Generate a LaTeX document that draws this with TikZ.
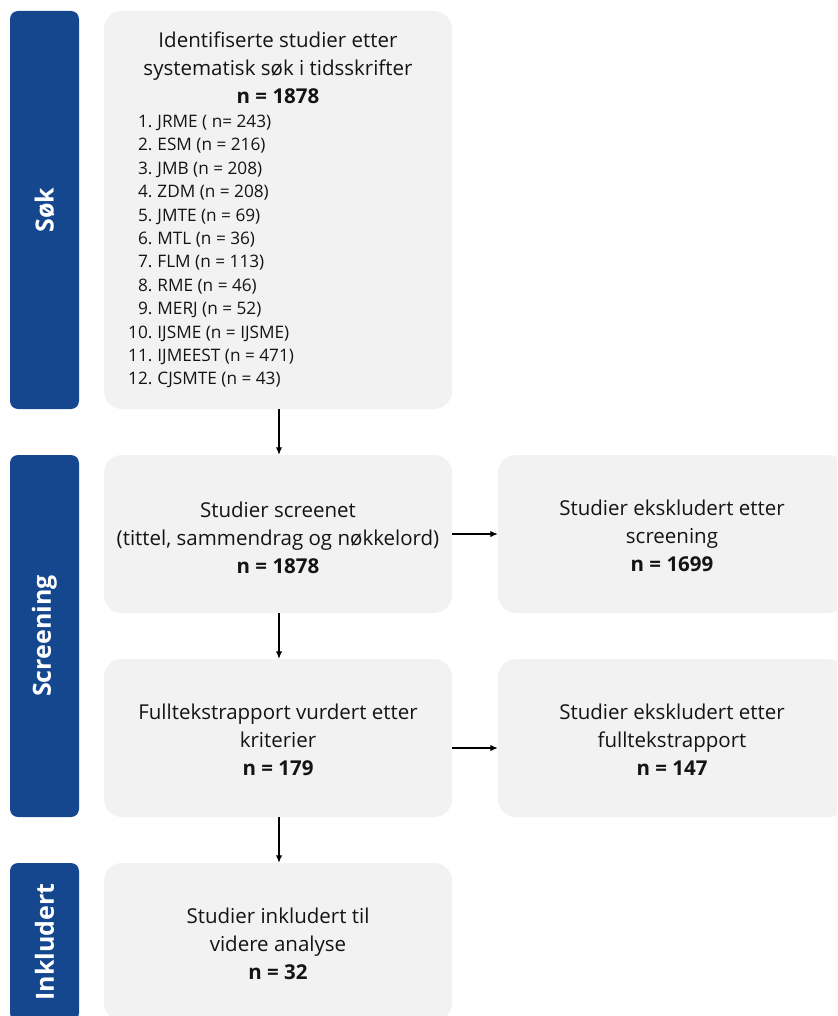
\documentclass[tikz,border=0pt]{standalone}
\usepackage{fontspec}
\setmainfont{Open Sans}
\usetikzlibrary{arrows.meta}
\definecolor{barblue}{RGB}{21,71,143}
\definecolor{boxgrey}{RGB}{242,242,242}
\definecolor{ink}{RGB}{20,20,20}
\begin{document}
\begin{tikzpicture}[x=1pt,y=-1pt,
  bar/.style={fill=barblue, rounded corners=8pt, text=white, font=\fontsize{25}{30}\selectfont\bfseries, rotate=90, inner sep=0pt, minimum height=69pt},
  box/.style={fill=boxgrey, rounded corners=18pt, minimum width=348pt, minimum height=158pt, inner sep=0pt},
  boxtext/.style={align=center, text=ink, font=\fontsize{20.5}{28}\selectfont, inner sep=0pt},
  arr/.style={-{Latex[length=7.5pt,width=6.5pt]}, line width=1.2pt, draw=black}]
\useasboundingbox (0,0) rectangle (837,1016);
\clip (0,0) rectangle (837,1016);
% phase bars
\node[bar, minimum width=398pt] (sok) at (44.5,210) {Søk};
\node[bar, minimum width=362pt] (scr) at (44.5,636) {Screening};
\node[bar, minimum width=158pt] (ink) at (44.5,942) {Inkludert};
% boxes
\node[box, minimum height=398pt] (b1) at (278,210) {};
\node[boxtext] (b1t) at (278,68)
  {Identifiserte studier etter\\systematisk søk i tidsskrifter\\\textbf{n = 1878}};
\node[anchor=west, text=ink, inner sep=0pt] (b1l) at (128,251.5)
  {\fontsize{17.2}{23.4}\selectfont\begin{tabular}{@{}r@{\hspace{5pt}}l@{}}
  1. & JRME ( n= 243)\\
  2. & ESM (n = 216)\\
  3. & JMB (n = 208)\\
  4. & ZDM (n = 208)\\
  5. & JMTE (n = 69)\\
  6. & MTL (n = 36)\\
  7. & FLM (n = 113)\\
  8. & RME (n = 46)\\
  9. & MERJ (n = 52)\\
  10. & IJSME (n = IJSME)\\
  11. & IJMEEST (n = 471)\\
  12. & CJSMTE (n = 43)
  \end{tabular}};
\node[box] (b2) at (278,534) {};
\node[boxtext] (b2t) at (278,538) {Studier screenet\\(tittel, sammendrag og nøkkelord)\\\textbf{n = 1878}};
\node[box] (b3) at (672,534) {};
\node[boxtext] (b3t) at (672,535.5) {Studier ekskludert etter\\screening\\\textbf{n = 1699}};
\node[box] (b4) at (278,738) {};
\node[boxtext] (b4t) at (278,740) {Fulltekstrapport vurdert etter\\kriterier\\\textbf{n = 179}};
\node[box] (b5) at (672,738) {};
\node[boxtext] (b5t) at (672,740) {Studier ekskludert etter\\fulltekstrapport\\\textbf{n = 147}};
\node[box] (b6) at (278,942) {};
\node[boxtext] (b6t) at (278,944) {Studier inkludert til\\videre analyse\\\textbf{n = 32}};
% connectors
\draw[arr] ([xshift=1pt]b1.south) -- ([xshift=1pt]b2.north);
\draw[arr] (b2.east) -- (b3.west);
\draw[arr] ([xshift=1pt]b2.south) -- ([xshift=1pt]b4.north);
\draw[arr] ([yshift=-10pt]b4.east) -- ([yshift=-10pt]b5.west);
\draw[arr] ([xshift=1pt]b4.south) -- ([xshift=1pt]b6.north);
\end{tikzpicture}
\end{document}
